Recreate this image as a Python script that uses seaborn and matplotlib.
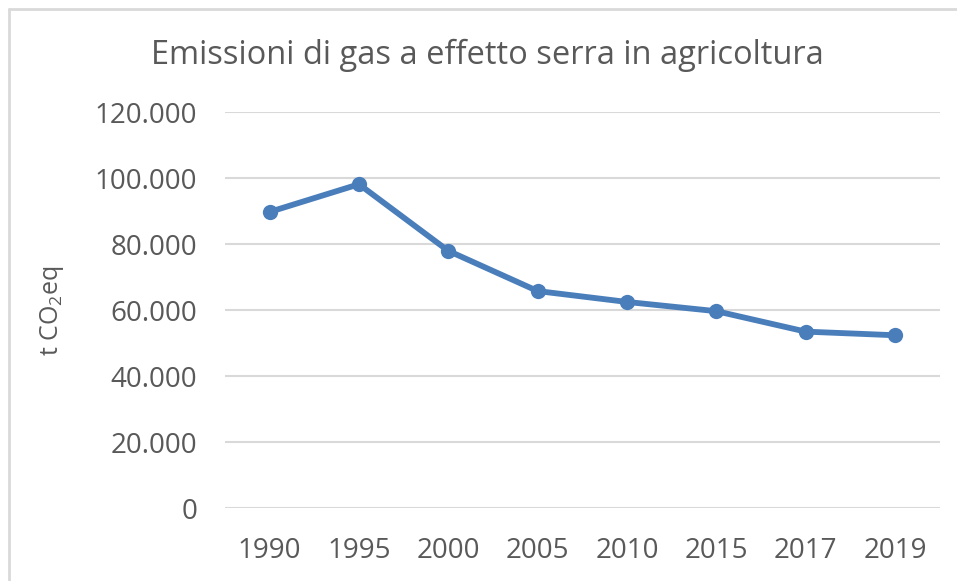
import matplotlib.pyplot as plt
import pandas as pd
import seaborn as sns
from matplotlib.lines import Line2D
from matplotlib.ticker import FuncFormatter

YEARS = ["1990", "1995", "2000", "2005", "2010", "2015", "2017", "2019"]
EMISSIONS = [89800, 98200, 78000, 65800, 62500, 59700, 53500, 52400]
Y_TICKS = [0, 20000, 40000, 60000, 80000, 100000, 120000]

TITLE = "Emissioni di gas a effetto serra in agricoltura"
Y_LABEL = "t CO$_2$eq"

LINE_COLOR = "#4a7ebb"
TEXT_COLOR = "#595959"
GRID_COLOR = "#d9d9d9"


def thousands(value, _pos):
    return f"{int(value):,}".replace(",", ".")


def main() -> None:
    sns.set_theme(style="white")
    plt.rcParams["font.family"] = ["Open Sans", "DejaVu Sans"]
    plt.rcParams["mathtext.fontset"] = "custom"
    plt.rcParams["mathtext.rm"] = "Open Sans"

    df = pd.DataFrame({"Year": YEARS, "Emissions": EMISSIONS})

    fig = plt.figure(figsize=(9.57, 5.81), dpi=100)
    ax = fig.add_axes([0.235, 0.1256, 0.747, 0.681])

    sns.lineplot(
        data=df, x="Year", y="Emissions", sort=False, ax=ax,
        color=LINE_COLOR, linewidth=4.2, marker="o", markersize=11,
        markeredgewidth=0, zorder=3,
    )

    ax.set_xlim(-0.5, len(YEARS) - 0.5)
    ax.set_ylim(0, 120000)
    ax.set_yticks(Y_TICKS)
    ax.yaxis.set_major_formatter(FuncFormatter(thousands))
    ax.grid(axis="y", color=GRID_COLOR, linewidth=1.5)
    ax.set_axisbelow(True)
    for spine in ax.spines.values():
        spine.set_visible(False)
    ax.tick_params(axis="both", length=0, labelsize=20, labelcolor=TEXT_COLOR)
    ax.tick_params(axis="y", pad=20)
    ax.tick_params(axis="x", pad=21)

    ax.set_xlabel("")
    ax.set_ylabel(Y_LABEL, fontsize=18, color=TEXT_COLOR)
    ax.yaxis.set_label_coords(-0.222, 0.5)

    fig.text(0.509, 0.905, TITLE, ha="center", va="center", fontsize=23.5, color=TEXT_COLOR)

    # chart frame: only the left and top edges are visible in the crop
    fig.add_artist(Line2D([0.009, 0.009], [0, 0.985], transform=fig.transFigure,
                          color=GRID_COLOR, linewidth=2))
    fig.add_artist(Line2D([0.009, 1.0], [0.985, 0.985], transform=fig.transFigure,
                          color=GRID_COLOR, linewidth=2))

    fig.savefig("out.png", dpi=100)
    plt.close(fig)


if __name__ == "__main__":
    main()
